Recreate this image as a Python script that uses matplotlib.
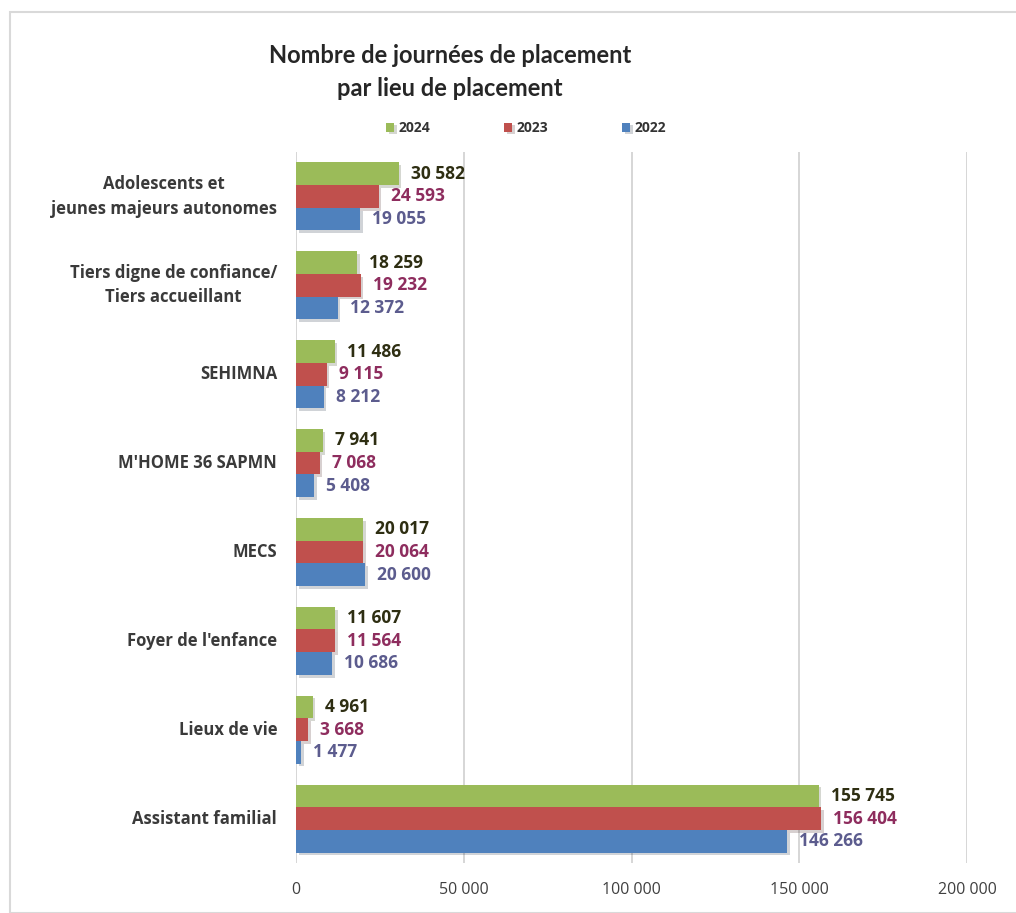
import matplotlib.pyplot as plt
import matplotlib.patheffects as pe
from matplotlib.patches import Rectangle
import numpy as np

plt.rcParams['font.family'] = ['Open Sans', 'DejaVu Sans']

# categories, top to bottom as shown
categories = ["Adolescents et\njeunes majeurs autonomes",
              "Tiers digne de confiance/\nTiers accueillant",
              "SEHIMNA",
              "M'HOME 36 SAPMN",
              "MECS",
              "Foyer de l'enfance",
              "Lieux de vie",
              "Assistant familial"]
v2024 = [30582, 18259, 11486, 7941, 20017, 11607, 4961, 155745]
v2023 = [24593, 19232, 9115, 7068, 20064, 11564, 3668, 156404]
v2022 = [19055, 12372, 8212, 5408, 20600, 10686, 1477, 146266]
years = ["2024", "2023", "2022"]

bar_cols = ["#9BBB59", "#C0504D", "#4F81BD"]
txt_cols = ["#2E2E12", "#8E2D5E", "#5C5C8E"]

def fmt(v):
    return f"{v:,}".replace(",", " ")

fig = plt.figure(figsize=(10.16, 9.13), dpi=100)
# cadre du graphique
fig.patches.append(Rectangle((10/1016, 0), 1.1, 1 - 12/913, transform=fig.transFigure,
                             fill=False, edgecolor="#d9d9d9", linewidth=1.5))
ax = fig.add_axes([296/1016, 1 - 863/913, 671/1016, (863-152)/913])

n = len(categories)
y = np.arange(n)[::-1]  # première catégorie en haut
h = 0.255
series = [v2024, v2023, v2022]
for k, vals in enumerate(series):
    yy = y + h * (1 - k)
    ax.barh(yy, vals, height=h, color=bar_cols[k], label=years[k], zorder=3,
            path_effects=[pe.SimplePatchShadow(offset=(2, -2), alpha=0.2), pe.Normal()])
    for yi, v in zip(yy, vals):
        ax.text(v + 3600, yi, fmt(v), va="center", ha="left", fontsize=12.5,
                fontweight="bold", color=txt_cols[k], zorder=4)

for yi, c in zip(y, categories):
    ax.text(-0.028, yi, c, transform=ax.get_yaxis_transform(), ha="right", va="center",
            multialignment="center", fontsize=12, fontweight="bold", color="#3a3a3a",
            linespacing=1.45)

ax.set_xlim(0, 200000)
ax.set_ylim(-0.5, n - 0.5)
ticks = [0, 50000, 100000, 150000, 200000]
ax.set_xticks(ticks)
ax.set_xticklabels([fmt(t) for t in ticks], fontsize=11.5, color="#404040")
ax.set_yticks([])
ax.tick_params(axis="x", length=0, pad=14)
ax.grid(axis="x", color="#d0d0d0", linewidth=1.2, zorder=0)
for s in ax.spines.values():
    s.set_visible(False)

fig.text(450/1016, 1 - 72/913, "Nombre de journées de placement\npar lieu de placement",
         ha="center", va="center", fontsize=17, fontweight="bold", color="#262626",
         linespacing=1.5, family=["Lato", "DejaVu Sans"])

leg = fig.legend(loc="center", bbox_to_anchor=(526/1016, 1 - 128/913), ncol=3, frameon=False,
                 fontsize=10, handlelength=0.62, handleheight=0.62, columnspacing=5.3,
                 handletextpad=0.3)
for t in leg.get_texts():
    t.set_fontweight("bold")
    t.set_color("#333333")

fig.savefig("out.png", dpi=100, facecolor="white")
